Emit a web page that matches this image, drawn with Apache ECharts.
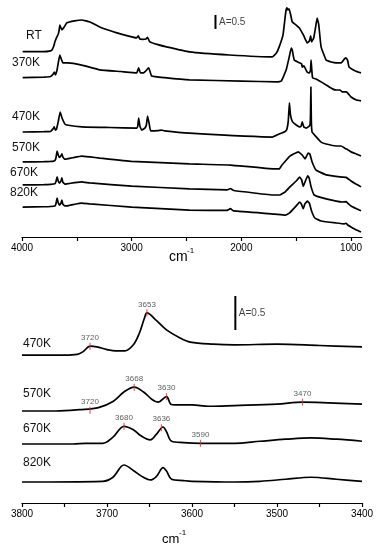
<!DOCTYPE html>
<html><head><meta charset="utf-8">
<script src="https://cdn.jsdelivr.net/npm/echarts@6/dist/echarts.min.js"></script>
<style>html,body{margin:0;padding:0;background:#fff}#c{width:378px;height:550px}</style>
</head><body><div id="c"></div>
<script>
// ---------- Upper panel: 4000-900 cm-1, absorbance relative to each trace's start ----------
const topNames = ['RT', '370K', '470K', '570K', '670K', '820K'];
const topOffsets = [6.62, 5.69, 3.75, 2.68, 1.86, 1.07];   // vertical stacking offset (A units)
const specRT = [[3994,0],[3800,0],[3740,0.03],[3727,0.06],[3710,0.2],[3700,0.35],[3682,0.53],[3670,0.62],[3662,0.75],[3655,0.95],[3645,0.85],[3636,0.78],[3615,0.88],[3591,1.03],[3520,1.10],[3455,1.13],[3380,1.06],[3291,0.88],[3136,0.67],[2990,0.52],[2955,0.49],[2940,0.56],[2925,0.45],[2900,0.44],[2870,0.45],[2855,0.51],[2835,0.35],[2760,0.25],[2682,0.17],[2473,-0.01],[2109,-0.12],[1718,-0.19],[1680,-0.05],[1655,0.17],[1620,0.6],[1595,1.42],[1585,1.56],[1575,1.49],[1565,1.53],[1550,1.31],[1536,1.06],[1500,0.95],[1473,0.85],[1445,0.67],[1430,0.56],[1400,0.31],[1380,0.38],[1368,0.56],[1360,0.35],[1340,0.49],[1320,0.95],[1309,1.20],[1295,0.98],[1273,0.17],[1227,-0.30],[1180,-0.37],[1136,-0.40],[1090,-0.40],[1060,-0.26],[1045,-0.22],[1030,-0.33],[1018,-0.55],[960,-0.69],[909,-0.76]];
const spec370 = [[3994,0],[3800,0.02],[3740,0.04],[3715,0.13],[3706,0.2],[3695,0.1],[3680,0.28],[3665,0.63],[3655,0.81],[3645,0.7],[3627,0.53],[3580,0.53],[3455,0.45],[3291,0.28],[3100,0.22],[2955,0.17],[2936,0.35],[2920,0.17],[2891,0.17],[2845,0.35],[2818,0.06],[2700,0.0],[2473,-0.08],[2000,-0.12],[1673,-0.15],[1636,-0.12],[1591,0.28],[1560,0.8],[1545,1.06],[1536,0.99],[1518,0.63],[1470,0.53],[1450,0.49],[1445,0.38],[1430,0.42],[1400,0.2],[1380,0.17],[1370,0.25],[1364,0.63],[1358,0.28],[1350,-0.01],[1318,-0.05],[1227,-0.26],[1170,-0.4],[1136,-0.44],[1100,-0.44],[1080,-0.51],[1045,-0.51],[1030,-0.55],[1000,-0.69],[950,-0.8],[909,-0.83]];
const spec470 = [[3994,0],[3800,0.01],[3740,0.02],[3715,0.12],[3706,0.18],[3695,0.07],[3685,0.11],[3670,0.36],[3652,0.71],[3635,0.5],[3610,0.29],[3591,0.25],[3455,0.18],[3200,0.16],[2955,0.14],[2945,0.2],[2936,0.5],[2925,0.21],[2909,0.07],[2880,0.14],[2866,0.25],[2855,0.57],[2840,0.29],[2827,0.04],[2760,0.05],[2727,0.07],[2700,0.04],[2473,-0.04],[1718,-0.18],[1655,-0.07],[1600,0.02],[1585,0.1],[1572,0.4],[1562,1.04],[1552,0.6],[1533,0.36],[1500,0.25],[1470,0.18],[1455,0.21],[1445,0.36],[1430,0.18],[1410,0.14],[1390,0.18],[1375,0.25],[1370,0.5],[1366,1.61],[1362,0.4],[1355,0.0],[1309,-0.21],[1273,-0.36],[1227,-0.43],[1136,-0.5],[1091,-0.5],[1060,-0.57],[1040,-0.61],[1000,-0.71],[950,-0.79],[909,-0.86]];
const spec570 = [[3994,0],[3800,0.01],[3740,0.02],[3710,0.03],[3700,0.05],[3690,0.15],[3680,0.39],[3670,0.25],[3658,0.16],[3645,0.22],[3636,0.29],[3628,0.18],[3610,0.1],[3591,0.11],[3540,0.15],[3455,0.21],[3380,0.18],[3291,0.14],[3000,0.02],[2473,-0.07],[2100,-0.11],[1700,-0.25],[1655,-0.25],[1630,-0.11],[1590,0.07],[1560,0.2],[1520,0.29],[1480,0.36],[1460,0.3],[1445,0.25],[1420,0.11],[1390,0.32],[1375,0.28],[1355,0.0],[1318,-0.29],[1227,-0.46],[1082,-0.54],[1045,-0.55],[1000,-0.68],[950,-0.8],[909,-0.89]];
const spec670 = [[3994,0],[3800,0.01],[3740,0.02],[3700,0.04],[3690,0.12],[3680,0.29],[3670,0.14],[3658,0.06],[3645,0.14],[3636,0.25],[3628,0.1],[3610,0.03],[3591,0.04],[3520,0.08],[3455,0.11],[3380,0.07],[3000,-0.04],[2473,-0.14],[2130,-0.18],[2100,-0.13],[2070,-0.2],[1700,-0.36],[1650,-0.36],[1600,-0.25],[1550,-0.04],[1500,0.14],[1468,0.28],[1450,0.18],[1436,-0.05],[1420,0.1],[1395,0.32],[1382,0.25],[1364,-0.07],[1336,-0.36],[1227,-0.5],[1082,-0.61],[1045,-0.6],[1030,-0.65],[1000,-0.75],[950,-0.85],[909,-0.92]];
const spec820 = [[3994,0],[3800,0.01],[3740,0.02],[3700,0.04],[3690,0.12],[3680,0.32],[3670,0.15],[3658,0.07],[3645,0.14],[3636,0.25],[3628,0.1],[3610,0.04],[3591,0.04],[3520,0.1],[3455,0.14],[3380,0.11],[3000,0],[2473,-0.11],[2130,-0.12],[2100,-0.06],[2070,-0.14],[1700,-0.25],[1600,-0.29],[1560,-0.21],[1500,0.04],[1468,0.18],[1452,0.1],[1436,-0.06],[1420,0.12],[1398,0.21],[1380,0.14],[1360,-0.14],[1330,-0.39],[1273,-0.5],[1136,-0.57],[1060,-0.6],[1045,-0.58],[1030,-0.64],[1000,-0.71],[950,-0.82],[909,-0.89]];
const topTicks = [4000, 3500, 3000, 2500, 2000, 1500, 1000];
const topTickLabels = [4000, 3000, 2000, 1000];
const topScaleBar = [2236, 7.43, 0.5];   // x, bottom, length (A)

// ---------- Lower panel: 3800-3400 cm-1 ----------
const bottomNames = ['470K', '570K', '670K', '820K'];
const bottomOffsets = [2.176, 1.353, 0.868, 0.309];
const b470 = [[3800,0],[3750,0],[3735,0.01],[3728,0.05],[3720,0.13],[3712,0.12],[3700,0.08],[3690,0.06],[3679,0.06],[3669,0.15],[3662,0.32],[3656,0.54],[3653,0.62],[3642,0.51],[3630,0.37],[3614,0.25],[3602,0.19],[3575,0.16],[3550,0.15],[3500,0.16],[3450,0.14],[3400,0.12]];
const b570 = [[3800,0],[3760,0.0],[3732,0.02],[3710,0.05],[3693,0.14],[3680,0.28],[3668,0.35],[3657,0.28],[3647,0.17],[3640,0.13],[3630,0.21],[3625,0.1],[3620,0.09],[3600,0.09],[3580,0.07],[3550,0.08],[3500,0.1],[3470,0.13],[3440,0.12],[3400,0.1]];
const b670 = [[3800,0],[3740,0.0],[3725,0.01],[3705,0.01],[3693,0.1],[3680,0.26],[3669,0.21],[3660,0.12],[3649,0.06],[3642,0.14],[3634,0.25],[3630,0.18],[3624,0.04],[3610,0.02],[3590,0.01],[3550,0.01],[3520,0.04],[3490,0.07],[3460,0.09],[3430,0.07],[3400,0.04]];
const b820 = [[3800,0],[3705,0.01],[3693,0.07],[3680,0.25],[3669,0.17],[3660,0.09],[3649,0.03],[3642,0.08],[3634,0.21],[3630,0.16],[3624,0.04],[3610,0.02],[3600,0.01],[3550,0],[3520,0.01],[3490,0.04],[3460,0.07],[3430,0.04],[3400,0.01]];
const peaks470 = [[3720,0.13],[3653,0.62]];
const peaks570 = [[3720,0.01],[3668,0.35],[3630,0.21],[3470,0.13]];
const peaks670 = [[3680,0.26],[3636,0.24],[3590,0.01]];
const bottomTicks = [3800, 3750, 3700, 3650, 3600, 3550, 3500, 3450, 3400];
const bottomTickLabels = [3800, 3700, 3600, 3500, 3400];
const bottomScaleBar = [3549, 2.544, 0.5];

const FONT = '"Liberation Sans", Arial, sans-serif';
const shift = (arr, off) => arr.map(p => [p[0], +(p[1] + off).toFixed(3)]);
const lineStyle = { color: '#000', width: 1.7 };

const series = [];
[specRT, spec370, spec470, spec570, spec670, spec820].forEach((s, i) => {
  series.push({ type: 'line', name: topNames[i], xAxisIndex: 0, yAxisIndex: 0, data: shift(s, topOffsets[i]),
    showSymbol: false, smooth: 0.1, lineStyle, silent: true });
});
[b470, b570, b670, b820].forEach((s, i) => {
  series.push({ type: 'line', name: 'b' + bottomNames[i], xAxisIndex: 1, yAxisIndex: 1, data: shift(s, bottomOffsets[i]),
    showSymbol: false, smooth: 0.35, lineStyle, silent: true });
});
// peak markers
const peakSets = [[peaks470, bottomOffsets[0]], [peaks570, bottomOffsets[1]], [peaks670, bottomOffsets[2]]];
peakSets.forEach(([pk, off]) => {
  series.push({ type: 'scatter', xAxisIndex: 1, yAxisIndex: 1, symbol: 'rect', symbolSize: [1.2, 7],
    itemStyle: { color: '#e2323f' }, data: shift(pk, off), silent: true, z: 3,
    label: { show: true, position: 'top', distance: 1, formatter: p => String(p.value[0]),
      fontSize: 8, fontFamily: FONT, color: '#333' } });
});
// scale bars
[[topScaleBar, 0], [bottomScaleBar, 1]].forEach(([b, ax]) => {
  series.push({ type: 'line', xAxisIndex: ax, yAxisIndex: ax, data: [[b[0], b[1]], [b[0], b[1] + b[2]]],
    showSymbol: false, lineStyle: { color: '#000', width: 2 }, silent: true });
  series.push({ type: 'scatter', xAxisIndex: ax, yAxisIndex: ax, symbolSize: 1, itemStyle: { color: 'rgba(0,0,0,0)' },
    data: [[b[0], b[1] + b[2] / 2]], silent: true,
    label: { show: true, position: 'right', distance: 3, formatter: 'A=' + b[2], fontSize: 10, fontFamily: FONT, color: '#111' } });
});

function xAxis(gridIndex, min, max, ticks, labels, margin) {
  return { type: 'value', gridIndex, min, max, inverse: true,
    axisLine: { show: true, onZero: false, lineStyle: { color: '#000', width: 1.2 } },
    axisTick: { show: true, length: 4, customValues: ticks, lineStyle: { color: '#000', width: 1.2 } },
    axisLabel: { show: true, customValues: labels, margin, fontSize: 10, fontFamily: FONT, color: '#000',
      formatter: v => String(v) },
    splitLine: { show: false } };
}

const graphic = [];
const topLabelPos = [[26, 36], [12, 63], [12, 117], [12, 148], [10, 173], [10, 193]];
topNames.forEach((t, i) => graphic.push({ type: 'text', x: topLabelPos[i][0], y: topLabelPos[i][1],
  style: { text: t, font: '12px ' + FONT, fill: '#111', verticalAlign: 'middle' } }));
const bottomLabelPos = [[23, 344], [23, 394], [23, 429], [23, 463]];
bottomNames.forEach((t, i) => graphic.push({ type: 'text', x: bottomLabelPos[i][0], y: bottomLabelPos[i][1],
  style: { text: t, font: '12px ' + FONT, fill: '#111', verticalAlign: 'middle' } }));
// axis units
graphic.push({ type: 'text', x: 169, y: 257, style: { text: 'cm', font: '14px ' + FONT, fill: '#000', verticalAlign: 'middle' } });
graphic.push({ type: 'text', x: 187, y: 251, style: { text: '-1', font: '8px ' + FONT, fill: '#000', verticalAlign: 'middle' } });
graphic.push({ type: 'text', x: 162, y: 539, style: { text: 'cm', font: '13px ' + FONT, fill: '#000', verticalAlign: 'middle' } });
graphic.push({ type: 'text', x: 179, y: 533, style: { text: '-1', font: '8px ' + FONT, fill: '#000', verticalAlign: 'middle' } });

const chart = echarts.init(document.getElementById('c'), null, { renderer: 'canvas' });
chart.setOption({
  animation: false,
  backgroundColor: '#fff',
  grid: [
    { left: 22, width: 340, top: 0, height: 237 },
    { left: 22, width: 340, top: 280, height: 223 }
  ],
  xAxis: [
    xAxis(0, 900, 4000, topTicks, topTickLabels, 6),
    xAxis(1, 3400, 3800, bottomTicks, bottomTickLabels, 6)
  ],
  yAxis: [
    { type: 'value', gridIndex: 0, min: 0, max: 237 / 28, show: false },
    { type: 'value', gridIndex: 1, min: 0, max: 223 / 68, show: false }
  ],
  series,
  graphic
});
</script></body></html>
